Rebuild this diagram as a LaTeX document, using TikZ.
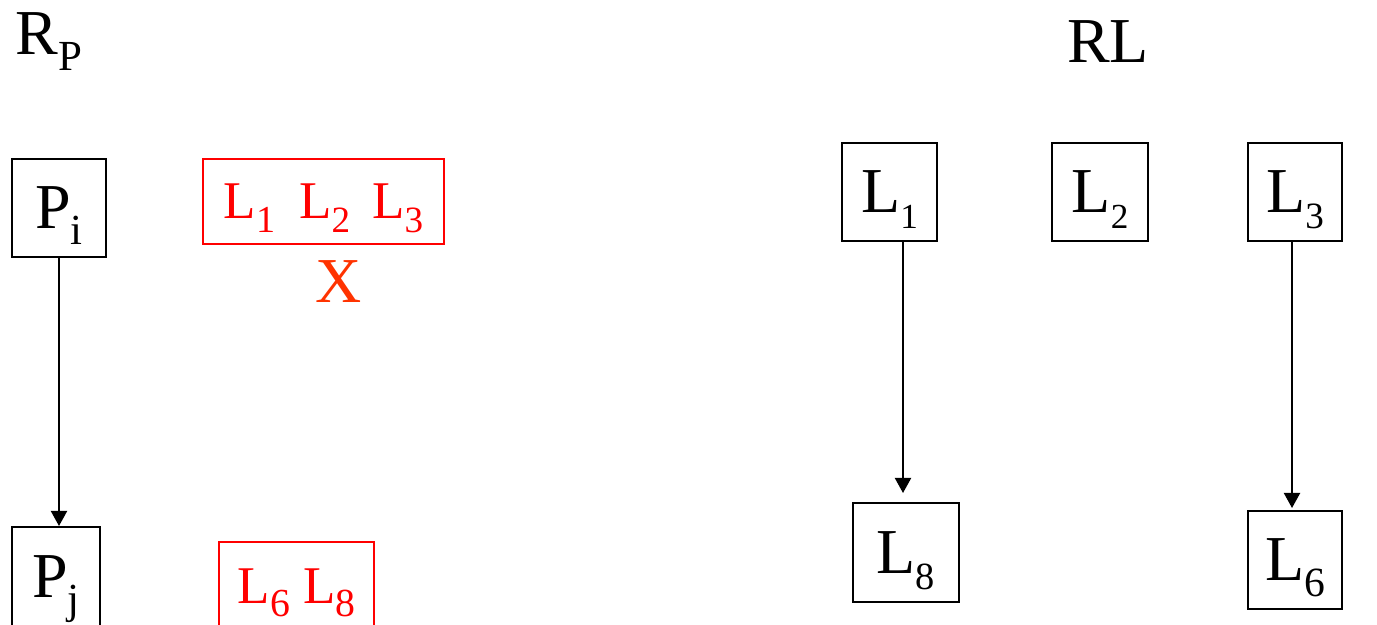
\documentclass[tikz,border=0pt]{standalone}
\usepackage{fontspec}
\setmainfont{Liberation Serif}
\usepackage{graphicx}
\usetikzlibrary{arrows.meta,positioning}
\definecolor{boxred}{RGB}{255,0,0}
\definecolor{crossred}{RGB}{255,51,0}
\newcommand{\sbx}[2][0.67]{\raisebox{-0.25em}{\scalebox{#1}{#2}}}
\newcommand{\bigfont}{\fontsize{32}{38}\selectfont}
\newcommand{\redfont}{\fontsize{26.5}{32}\selectfont}

\begin{document}
\begin{tikzpicture}[x=0.5pt,y=-0.5pt,
    every node/.style={font=\bigfont,inner sep=0pt,text depth=0pt},
    box/.style={draw,line width=1pt},
    redbox/.style={draw=boxred,text=boxred,line width=1pt,font=\redfont},
    arr/.style={-{Triangle[length=7.5pt,width=8pt]},line width=1pt}]
  \useasboundingbox (0,0) rectangle (1377,625);
  \clip (0,0) rectangle (1377,625);
  % left part
  \node[anchor=base west] (rp) at (15,55) {R\sbx{P}};
  \node[box,minimum width=47pt,minimum height=49pt] (pi) at (59,208) {P\sbx{i}};
  \node[box,minimum width=44pt,minimum height=50pt] (pj) at (56,577) {P\sbx{j}};
  \node[redbox,minimum width=120.5pt,minimum height=42.5pt] (redtop) at (323.5,201.5)
    {L\sbx[0.72]{1}\hspace{12pt}L\sbx[0.7]{2}\hspace{11pt}L\sbx[0.7]{3}};
  \node[text=crossred] (cross) at (339,282) {X};
  \node[redbox,minimum width=77.5pt,minimum height=44pt] (redbot) at (296.5,586)
    {L\sbx[0.75]{6} L\sbx[0.75]{8}};
  \draw[arr] (pi.south) -- (pi.south |- pj.north);
  % right part
  \node[anchor=base] (rl) at (1108,63) {RL};
  \node[box,minimum width=47.5pt,minimum height=49pt] (l1) at (889.5,192) {L\sbx[0.55]{1}};
  \node[box,minimum width=48pt,minimum height=49pt] (l2) at (1100,192) {L\sbx[0.55]{2}};
  \node[box,minimum width=47pt,minimum height=49pt] (l3) at (1295,192) {L\sbx[0.58]{3}};
  \node[box,minimum width=53pt,minimum height=49.5pt] (l8) at (906,552.5) {L\sbx[0.6]{8}};
  \node[box,minimum width=47pt,minimum height=49pt] (l6) at (1295,560) {L\sbx[0.65]{6}};
  \draw[arr,shorten >=4.5pt] ([xshift=-1.5pt]l8.north |- l1.south) -- ([xshift=-1.5pt]l8.north);
  \draw[arr,shorten >=1pt] ([xshift=-1.5pt]l3.south) -- ([xshift=-1.5pt]l6.north);
\end{tikzpicture}
\end{document}
